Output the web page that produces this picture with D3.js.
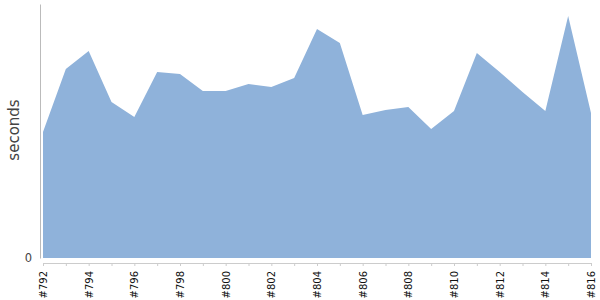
<!DOCTYPE html>
<html>
<head>
<meta charset="utf-8">
<script src="https://cdn.jsdelivr.net/npm/d3@7"></script>
<style>
  body { margin: 0; background: #fff; }
  text { font-family: "DejaVu Sans", sans-serif; }
</style>
</head>
<body>
<svg></svg>
<script>
// builds along the bottom
const builds = [792, 793, 794, 795, 796, 797, 798, 799, 800, 801, 802, 803, 804,
                805, 806, 807, 808, 809, 810, 811, 812, 813, 814, 815, 816];
const seconds = [126, 189, 207, 156, 141, 186, 184, 167, 167, 174, 171, 180, 229,
                 215, 143, 148, 151, 129, 147, 205, 186, 166, 147, 242, 145];
const yTicks = [0];
const yMax = 254;

var w = 600;
var h = 300;

let svg = d3.select("svg")
  .attr("width", w)
  .attr("height", h);

let xScale = d3.scalePoint()
  .domain(builds)
  .range([43, 591]);
let yScale = d3.scaleLinear()
  .domain([0, yMax])
  .range([258, 4]);

const data = builds.map(function(b, i){
  return {build: b, value: seconds[i]};
});

let area = d3.area()
  .x(function(d){ return xScale(d.build); })
  .y0(yScale(0))
  .y1(function(d){ return yScale(d.value); });

svg.append("path")
  .datum(data)
  .attr("d", area)
  .attr("fill", "#8fb2da");

// y axis: plain line with the single 0 label
let yAxis = d3.axisLeft(yScale)
  .tickValues(yTicks)
  .tickSize(0)
  .tickPadding(8);
let yAxisG = svg.append("g")
  .attr("transform", "translate(40,0)")
  .call(yAxis);
yAxisG.select(".domain").attr("stroke", "#bbb");
yAxisG.selectAll("text")
  .style("font-size", "11.5px")
  .attr("fill", "#444");

// x axis: tick per build, label every other one, rotated
let xAxis = d3.axisBottom(xScale)
  .tickSize(3)
  .tickSizeOuter(0)
  .tickPadding(0)
  .tickFormat(function(d, i){ return i % 2 == 0 ? "#" + d : ""; });
let xAxisG = svg.append("g")
  .attr("transform", "translate(0,263)")
  .call(xAxis);
xAxisG.select(".domain").attr("stroke", "#ccc");
xAxisG.selectAll(".tick line").attr("stroke", "#ccc");
xAxisG.selectAll("text")
  .style("font-size", "10px")
  .attr("fill", "#111")
  .attr("text-anchor", "end")
  .attr("transform", "translate(0,8)rotate(-90)")
  .attr("x", 0)
  .attr("y", 0)
  .attr("dy", "0.35em");

svg.append("text")
  .attr("transform", "translate(19,130)rotate(-90)")
  .attr("text-anchor", "middle")
  .style("font-size", "15px")
  .attr("fill", "#444")
  .text("seconds");
</script>
</body>
</html>
